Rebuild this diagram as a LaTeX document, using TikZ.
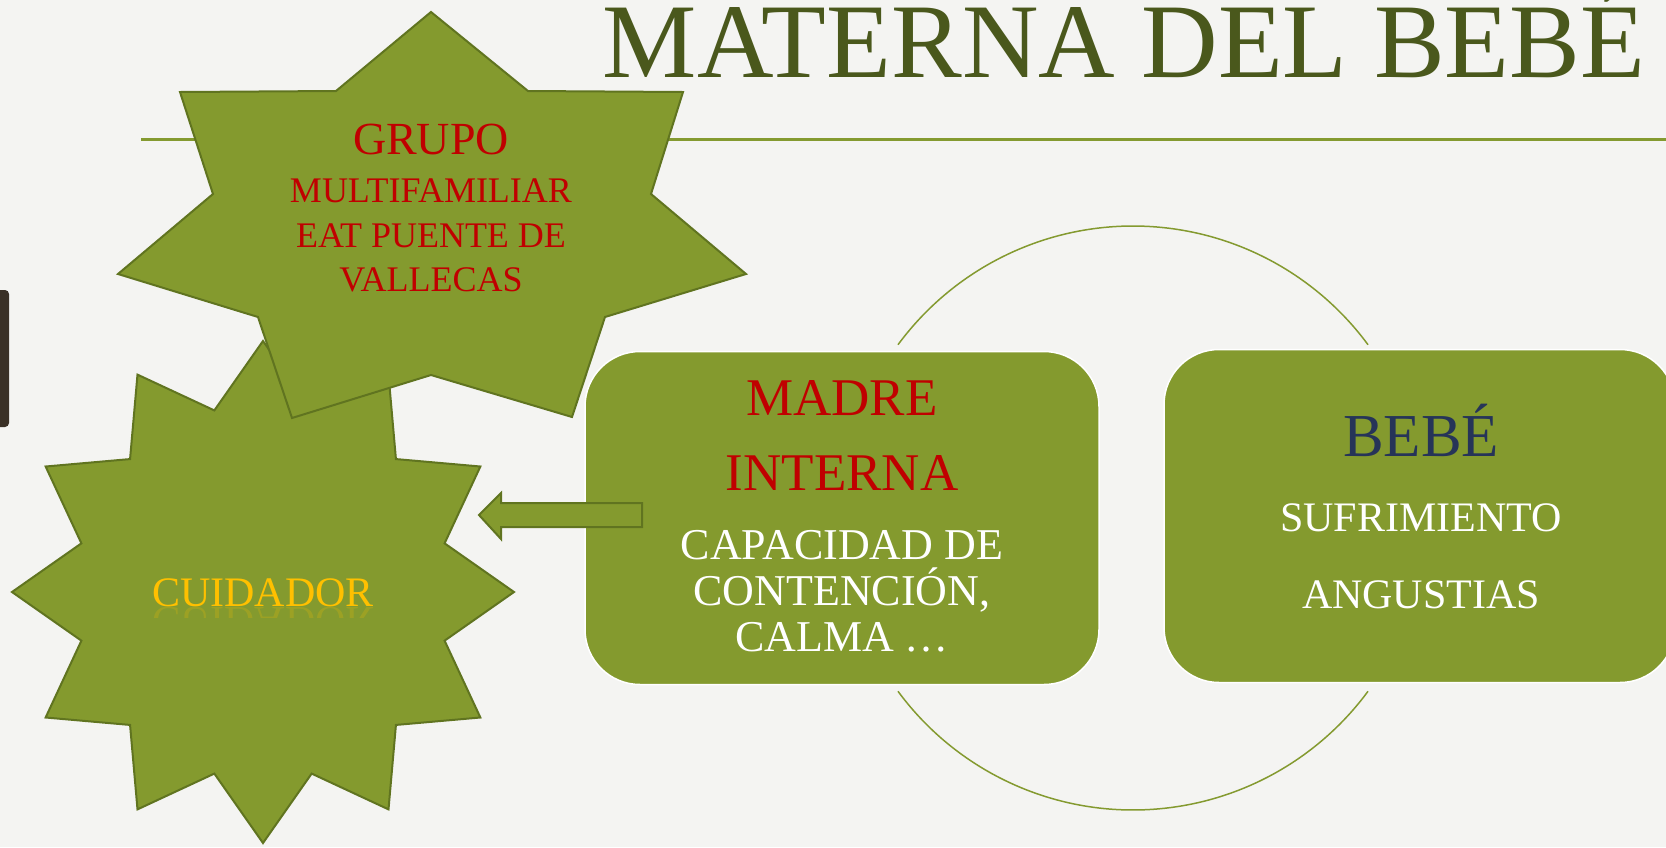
\documentclass[tikz,border=0pt]{standalone}
\usepackage{fontspec}
\setmainfont{Liberation Serif}
\definecolor{olivefill}{RGB}{132,154,46}
\definecolor{olivedark}{RGB}{96,116,32}
\definecolor{oliveline}{RGB}{132,154,48}
\definecolor{titlecol}{RGB}{74,88,28}
\definecolor{redtext}{RGB}{192,0,0}
\definecolor{goldtext}{RGB}{255,192,0}
\definecolor{navytext}{RGB}{38,52,88}
\definecolor{paper}{RGB}{244,244,242}
\definecolor{barcol}{RGB}{58,48,38}
\begin{document}
\begin{tikzpicture}[x=1pt,y=1pt,
  starsty/.style={fill=olivefill, draw=olivedark, line width=2pt, line join=miter},
  boxsty/.style={fill=olivefill, draw=white, line width=1.5pt, rounded corners=55pt, inner sep=0pt},
  arrowsty/.style={fill=olivefill, draw=olivedark, line width=2pt, line join=miter},
  txt/.style={inner sep=0pt, anchor=base},
  ftitle/.style={font=\fontsize{106}{112}\selectfont},
  fbig/.style={font=\fontsize{46}{50}\selectfont},
  fstar/.style={font=\fontsize{36}{40}\selectfont},
  fmadre/.style={font=\fontsize{53}{58}\selectfont},
  fwhite/.style={font=\fontsize{44}{48}\selectfont},
  fbebe/.style={font=\fontsize{61}{66}\selectfont},
  fbebe2/.style={font=\fontsize{42}{46}\selectfont},
  fcuid/.style={font=\fontsize{42}{46}\selectfont}]
\useasboundingbox (0,0) rectangle (1666,-847);
\clip (0,0) rectangle (1666,-847);
\fill[paper] (0,0) rectangle (1666,-847);

% title and rule
\node[txt, ftitle, text=titlecol] (title) at (1124,-77) {MATERNA DEL BEBÉ};
\coordinate (ruleL) at (141,-139);
\coordinate (ruleR) at (1666,-139);
\draw[oliveline, line width=3pt] (ruleL) -- (ruleR);

% dark bar at left edge
\fill[barcol, rounded corners=4pt] (-6,-290) rectangle (9,-427);

% cycle circle arcs
\coordinate (cc) at (1133,-518);
\draw[oliveline, line width=1.5pt] ([shift={(143.6:292pt)}]cc) arc[start angle=143.6, end angle=36.4, radius=292pt];
\draw[oliveline, line width=1.5pt] ([shift={(216.4:292pt)}]cc) arc[start angle=216.4, end angle=323.6, radius=292pt];

% boxes
\node[boxsty, minimum width=514pt, minimum height=333pt] (madre) at (842,-518) {};
\node[boxsty, minimum width=511pt, minimum height=333pt] (bebe) at (1419.5,-516) {};

% 12-point star (CUIDADOR)
\draw[starsty, shift={(263,-592)}] plot[samples at={0,...,23}, variable=\k] ({90+15*\k}:{251-63*mod(\k,2)}) -- cycle;

% 7-point star (GRUPO)
\draw[starsty] (431,-12) -- (528,-91) -- (683,-92) -- (651,-194) -- (746,-274) -- (605,-317)
  -- (572,-417) -- (431,-375) -- (292,-418) -- (258,-317) -- (118,-274) -- (213,-194)
  -- (180,-92) -- (336,-91) -- cycle;

% block arrow from madre to cuidador
\draw[arrowsty] (479,-515) -- (501,-493) -- (501,-503) -- (642,-503) -- (642,-527)
  -- (501,-527) -- (501,-539) -- cycle;

% star texts
\node[txt, fbig, text=redtext] (grupo) at (431,-154) {GRUPO};
\node[txt, fstar, text=redtext] (multi) at (431,-202) {MULTIFAMILIAR};
\node[txt, fstar, text=redtext] (eat) at (431,-247) {EAT PUENTE DE};
\node[txt, fstar, text=redtext] (vallecas) at (431,-291) {VALLECAS};

\node[txt, fcuid, text=goldtext] (cuidador) at (263,-606) {CUIDADOR};
\begin{scope}
  \clip (140,-607) rectangle (390,-617);
  \node[txt, fcuid, text=goldtext, yscale=-1, opacity=0.2] (cuidrefl) at (263,-607) {CUIDADOR};
\end{scope}

% madre texts
\node[txt, fmadre, text=redtext] (madreA) at (842,-415) {MADRE};
\node[txt, fmadre, text=redtext] (madreB) at (842,-490) {INTERNA};
\node[txt, fwhite, text=white] (capA) at (842,-559) {CAPACIDAD DE};
\node[txt, fwhite, text=white] (capB) at (842,-605) {CONTENCIÓN,};
\node[txt, fwhite, text=white] (capC) at (842,-651) {CALMA …};

% bebe texts
\node[txt, fbebe, text=navytext] (bebeA) at (1421,-456) {BEBÉ};
\node[txt, fbebe2, text=white] (bebeB) at (1421,-531) {SUFRIMIENTO};
\node[txt, fbebe2, text=white] (bebeC) at (1421,-608) {ANGUSTIAS};
\end{tikzpicture}
\end{document}
